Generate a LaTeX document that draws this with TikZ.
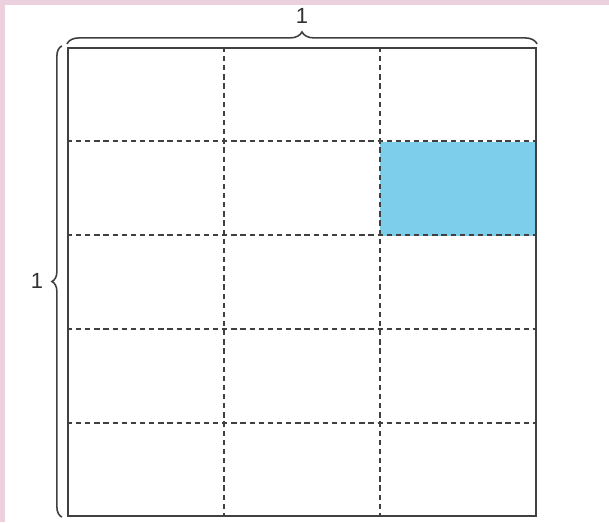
\documentclass[tikz,border=0pt]{standalone}
\usepackage{fontspec}
\setmainfont{Liberation Sans}
\usetikzlibrary{positioning, calc, decorations.pathreplacing}
\definecolor{pinkedge}{RGB}{236,208,221}
\definecolor{cellblue}{RGB}{125,206,235}
\definecolor{linegray}{RGB}{64,64,64}

\begin{document}
\begin{tikzpicture}[
    x=0.02cm, y=-0.02cm,
    sq/.style={draw=linegray, line width=1.3pt, minimum size=9.36cm, inner sep=0pt},
    cut/.style={draw=linegray, line width=1.1pt, dash pattern=on 3pt off 2.2pt},
    brc/.style={draw=linegray, line width=0.9pt, decorate, decoration={brace, amplitude=#1}},
    lbl/.style={font=\fontsize{12.5pt}{14pt}\selectfont, text=black!80, inner sep=0pt},
]
    % page frame
    \fill[pinkedge] (0,0) rectangle (609,522);
    \fill[white] (5,5) rectangle (609,522);
    \useasboundingbox (0,0) rectangle (609,522);

    % shaded part
    \fill[cellblue] (380,142) rectangle (536,236);

    \node[sq] (sq) at (302,282) {};

    % dashed cuts
    \foreach \i in {1,2}
        \draw[cut] ($(sq.north west)!\i/3!(sq.north east)$) -- ($(sq.south west)!\i/3!(sq.south east)$);
    \foreach \i in {1,...,4}
        \draw[cut] ($(sq.north west)!\i/5!(sq.south west)$) -- ($(sq.north east)!\i/5!(sq.south east)$);
    \node[sq] at (sq) {};

    % side lengths
    \coordinate (tl) at ($(sq.north west)+(0,-3)$);
    \coordinate (tr) at ($(sq.north east)+(0,-3)$);
    \coordinate (lt) at ($(sq.north west)+(-5,-1)$);
    \coordinate (lb) at ($(sq.south west)+(-5,0)$);
    \draw[brc=0.24cm] (tl) -- (tr);
    \draw[brc=0.2cm] (lb) -- (lt);
    \node[lbl] (wd) at (302,16) {1};
    \node[lbl] (ht) at (37,281) {1};
\end{tikzpicture}
\end{document}
